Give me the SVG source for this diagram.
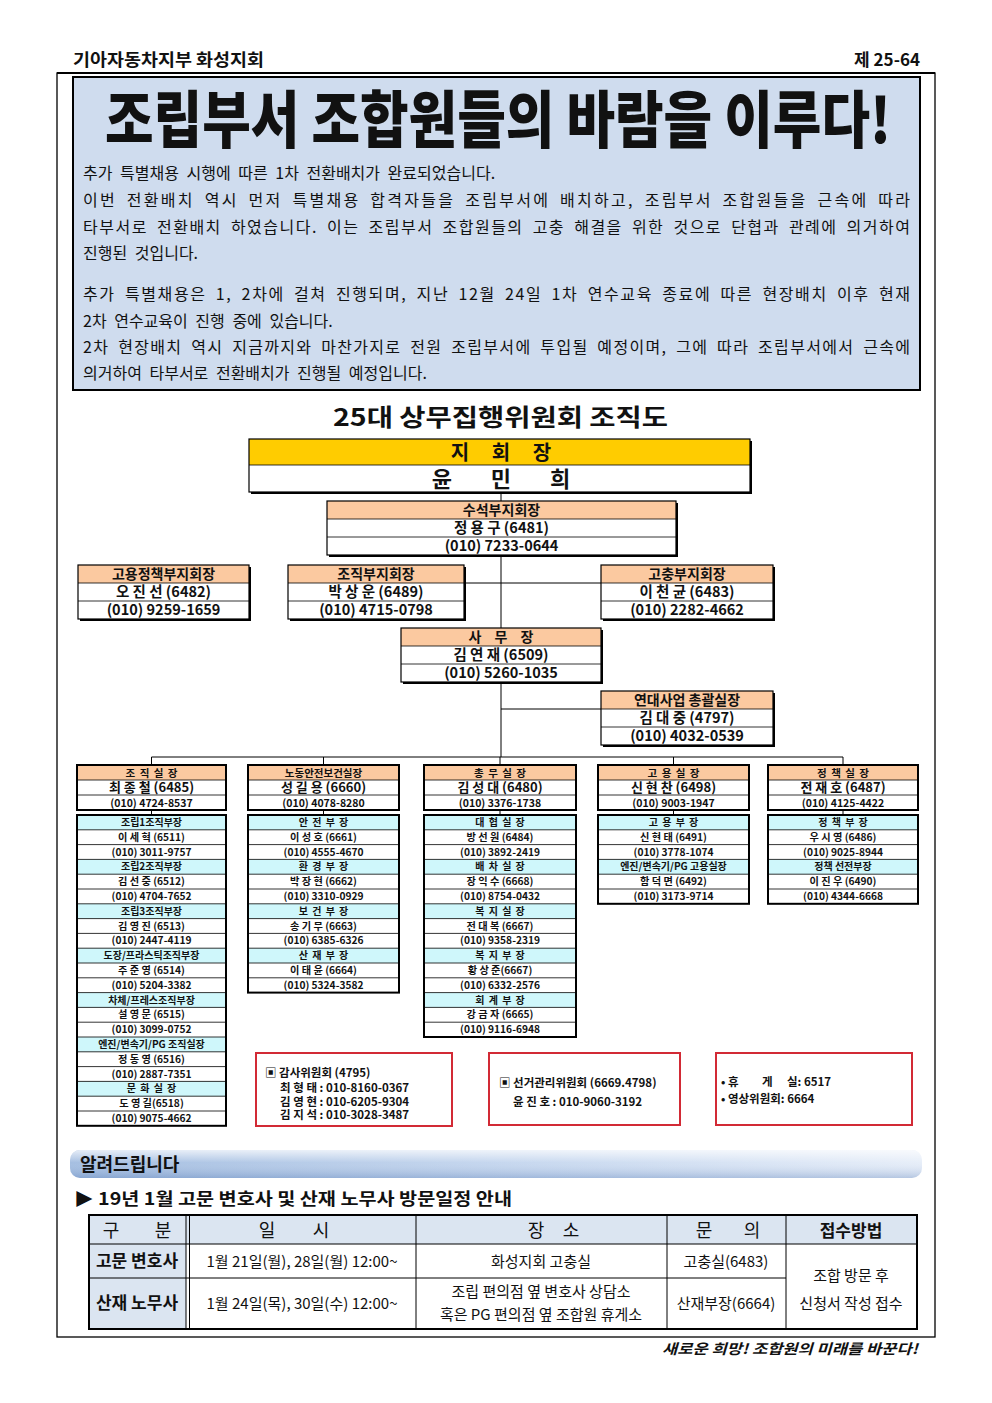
<svg xmlns="http://www.w3.org/2000/svg" width="992" height="1403" viewBox="0 0 992 1403">
<defs>
<linearGradient id="bannerG" x1="0" y1="0" x2="1" y2="0">
<stop offset="0" stop-color="#9cb8de"/>
<stop offset="0.55" stop-color="#c3d5ee"/>
<stop offset="1" stop-color="#e4ecf8"/>
</linearGradient>
<linearGradient id="bannerS" x1="0" y1="0" x2="0" y2="1">
<stop offset="0" stop-color="#ffffff" stop-opacity="0.75"/>
<stop offset="0.45" stop-color="#ffffff" stop-opacity="0.1"/>
<stop offset="1" stop-color="#5f82b8" stop-opacity="0.35"/>
</linearGradient>
</defs>
<style>
text{font-family:"Noto Sans CJK KR","Liberation Sans",sans-serif;fill:#111}
.b{font-weight:700}
.body{font-size:16px;word-spacing:4px}
.m{text-anchor:middle}
.l2h{font-size:14px;font-weight:700;text-anchor:middle}
.l2{font-size:14.5px;font-weight:700;text-anchor:middle}
.l3h{font-size:10.5px;font-weight:700;text-anchor:middle}
.l3n{font-size:13px;font-weight:700;text-anchor:middle}
.l3p{font-size:10.5px;font-weight:700;text-anchor:middle}
.sh{font-size:10px;font-weight:700;text-anchor:middle}
.sn{font-size:10.2px;font-weight:700;text-anchor:middle}
.peach{fill:#fbc9a0}
.cyan{fill:#cff7fb}
.wh{fill:#fff}
.bd{fill:none;stroke:#000;stroke-width:1.2}
.bd2{fill:none;stroke:#000;stroke-width:2}
.div{stroke:#000;stroke-width:0.8;fill:none}
.red{fill:#fff;stroke:#d22a35;stroke-width:2}
.rt{font-size:11.5px;font-weight:700}
.conn{stroke:#000;stroke-width:1;fill:none}
.td{font-size:15px}
.th{font-size:18px}
.tl{stroke:#000;stroke-width:1;fill:none}
</style>
<rect width="992" height="1403" fill="#fff"/>

<!-- page header -->
<text x="73" y="66" class="b" style="font-size:17px" textLength="191" lengthAdjust="spacingAndGlyphs">기아자동차지부 화성지회</text>
<text x="920" y="66" class="b" style="font-size:17px;text-anchor:end">제 25-64</text>
<rect x="57" y="73" width="878" height="1264" fill="none" stroke="#000" stroke-width="1.3"/>
<line x1="57" y1="73" x2="935" y2="73" stroke="#000" stroke-width="2.2"/>

<!-- headline box -->
<rect x="73" y="77" width="847" height="313" fill="#cfdcee" stroke="#000" stroke-width="2"/>
<text x="105" y="143" font-size="62" font-weight="900" textLength="786" lengthAdjust="spacingAndGlyphs">조립부서 조합원들의 바람을 이루다!</text>
<text class="body" x="83" y="179">추가 특별채용 시행에 따른 1차 전환배치가 완료되었습니다.</text>
<text class="body" x="83" y="206" textLength="827" lengthAdjust="spacing">이번 전환배치 역시 먼저 특별채용 합격자들을 조립부서에 배치하고, 조립부서 조합원들을 근속에 따라</text>
<text class="body" x="83" y="233" textLength="827" lengthAdjust="spacing">타부서로 전환배치 하였습니다. 이는 조립부서 조합원들의 고충 해결을 위한 것으로 단협과 관례에 의거하여</text>
<text class="body" x="83" y="259">진행된 것입니다.</text>
<text class="body" x="83" y="300" textLength="827" lengthAdjust="spacing">추가 특별채용은 1, 2차에 걸쳐 진행되며, 지난 12월 24일 1차 연수교육 종료에 따른 현장배치 이후 현재</text>
<text class="body" x="83" y="327">2차 연수교육이 진행 중에 있습니다.</text>
<text class="body" x="83" y="353" textLength="827" lengthAdjust="spacing">2차 현장배치 역시 지금까지와 마찬가지로 전원 조립부서에 투입될 예정이며, 그에 따라 조립부서에서 근속에</text>
<text class="body" x="83" y="379">의거하여 타부서로 전환배치가 진행될 예정입니다.</text>

<!-- org chart title -->
<text x="333" y="426" font-size="24" font-weight="700" textLength="335" lengthAdjust="spacingAndGlyphs">25대 상무집행위원회 조직도</text>

<!-- connectors -->
<g id="connectors" class="conn">
<path d="M501 492V757"/>
<path d="M464 583H601"/>
<path d="M501 709H601"/>
<path d="M151.5 757H843"/>
<path d="M151.5 757V765M323.5 757V765M500 757V765M673.5 757V765M843 757V765"/>
<path d="M151.5 810V815M323.5 810V815M500 810V815M673.5 810V815M843 810V815"/>
</g>

<!-- 지회장 -->
<g id="n-jihoejang">
<rect x="251" y="441" width="501" height="53" fill="#000"/>
<rect x="249" y="439" width="501" height="53" fill="#fff"/>
<rect x="249" y="439" width="501" height="26" fill="#ffcc00"/>
<path class="div" d="M249 465H750"/>
<rect x="249" y="439" width="501" height="53" class="bd"/>
<text x="501" y="460" font-size="20" font-weight="700" text-anchor="middle" word-spacing="18">지 회 장</text>
<text x="501" y="487" font-size="22" font-weight="700" text-anchor="middle" word-spacing="34">윤 민 희</text>
</g>

<!-- level 2 -->
<g id="n-suseok">
<rect x="329" y="503" width="349" height="54" fill="#000"/>
<rect x="327" y="501" width="349" height="54" class="wh"/>
<rect x="327" y="501" width="349" height="18" class="peach"/>
<path class="div" d="M327 519h349M327 537h349"/>
<rect x="327" y="501" width="349" height="54" class="bd"/>
<text class="l2h" x="501.5" y="515">수석부지회장</text>
<text class="l2" x="501.5" y="533">정 용 구 (6481)</text>
<text class="l2" x="501.5" y="551">(010) 7233-0644</text>
</g>

<g id="n-goyongjeongchaek">
<rect x="80" y="567" width="171" height="54" fill="#000"/>
<rect x="78" y="565" width="171" height="54" class="wh"/>
<rect x="78" y="565" width="171" height="18" class="peach"/>
<path class="div" d="M78 583h171M78 601h171"/>
<rect x="78" y="565" width="171" height="54" class="bd"/>
<text class="l2h" x="163.5" y="579">고용정책부지회장</text>
<text class="l2" x="163.5" y="597">오 진 선 (6482)</text>
<text class="l2" x="163.5" y="615">(010) 9259-1659</text>
</g>

<g id="n-jojikbu">
<rect x="290" y="567" width="176" height="54" fill="#000"/>
<rect x="288" y="565" width="176" height="54" class="wh"/>
<rect x="288" y="565" width="176" height="18" class="peach"/>
<path class="div" d="M288 583h176M288 601h176"/>
<rect x="288" y="565" width="176" height="54" class="bd"/>
<text class="l2h" x="376" y="579">조직부지회장</text>
<text class="l2" x="376" y="597">박 상 운 (6489)</text>
<text class="l2" x="376" y="615">(010) 4715-0798</text>
</g>

<g id="n-gochung">
<rect x="603" y="567" width="172" height="54" fill="#000"/>
<rect x="601" y="565" width="172" height="54" class="wh"/>
<rect x="601" y="565" width="172" height="18" class="peach"/>
<path class="div" d="M601 583h172M601 601h172"/>
<rect x="601" y="565" width="172" height="54" class="bd"/>
<text class="l2h" x="687" y="579">고충부지회장</text>
<text class="l2" x="687" y="597">이 천 균 (6483)</text>
<text class="l2" x="687" y="615">(010) 2282-4662</text>
</g>

<g id="n-samujang">
<rect x="403" y="630" width="200" height="54" fill="#000"/>
<rect x="401" y="628" width="200" height="54" class="wh"/>
<rect x="401" y="628" width="200" height="18" class="peach"/>
<path class="div" d="M401 646h200M401 664h200"/>
<rect x="401" y="628" width="200" height="54" class="bd"/>
<text class="l2h" x="501" y="642" word-spacing="10">사 무 장</text>
<text class="l2" x="501" y="660">김 연 재 (6509)</text>
<text class="l2" x="501" y="678">(010) 5260-1035</text>
</g>

<g id="n-yeondae">
<rect x="603" y="693" width="172" height="54" fill="#000"/>
<rect x="601" y="691" width="172" height="54" class="wh"/>
<rect x="601" y="691" width="172" height="18" class="peach"/>
<path class="div" d="M601 709h172M601 727h172"/>
<rect x="601" y="691" width="172" height="54" class="bd"/>
<text class="l2h" x="687" y="705">연대사업 총괄실장</text>
<text class="l2" x="687" y="723">김 대 중 (4797)</text>
<text class="l2" x="687" y="741">(010) 4032-0539</text>
</g>

<!-- level 3 heads -->
<g id="n-jojiksiljang">
<rect x="77" y="765" width="149" height="45" class="wh"/>
<rect x="77" y="765" width="149" height="15" class="peach"/>
<path class="div" d="M77 780h149M77 795h149"/>
<rect x="77" y="765" width="149" height="45" class="bd2"/>
<text class="l3h" x="151.5" y="776.5" word-spacing="2">조 직 실 장</text>
<text class="l3n" x="151.5" y="792">최 종 철 (6485)</text>
<text class="l3p" x="151.5" y="806.5">(010) 4724-8537</text>
</g>
<g id="n-nodong">
<rect x="248" y="765" width="151" height="45" class="wh"/>
<rect x="248" y="765" width="151" height="15" class="peach"/>
<path class="div" d="M248 780h151M248 795h151"/>
<rect x="248" y="765" width="151" height="45" class="bd2"/>
<text class="l3h" x="323.5" y="776.5">노동안전보건실장</text>
<text class="l3n" x="323.5" y="792">성 길 용 (6660)</text>
<text class="l3p" x="323.5" y="806.5">(010) 4078-8280</text>
</g>
<g id="n-chongmu">
<rect x="424" y="765" width="152" height="45" class="wh"/>
<rect x="424" y="765" width="152" height="15" class="peach"/>
<path class="div" d="M424 780h152M424 795h152"/>
<rect x="424" y="765" width="152" height="45" class="bd2"/>
<text class="l3h" x="500" y="776.5" word-spacing="2">총 무 실 장</text>
<text class="l3n" x="500" y="792">김 성 대 (6480)</text>
<text class="l3p" x="500" y="806.5">(010) 3376-1738</text>
</g>
<g id="n-goyongsil">
<rect x="598" y="765" width="151" height="45" class="wh"/>
<rect x="598" y="765" width="151" height="15" class="peach"/>
<path class="div" d="M598 780h151M598 795h151"/>
<rect x="598" y="765" width="151" height="45" class="bd2"/>
<text class="l3h" x="673.5" y="776.5" word-spacing="2">고 용 실 장</text>
<text class="l3n" x="673.5" y="792">신 현 찬 (6498)</text>
<text class="l3p" x="673.5" y="806.5">(010) 9003-1947</text>
</g>
<g id="n-jeongchaek">
<rect x="768" y="765" width="150" height="45" class="wh"/>
<rect x="768" y="765" width="150" height="15" class="peach"/>
<path class="div" d="M768 780h150M768 795h150"/>
<rect x="768" y="765" width="150" height="45" class="bd2"/>
<text class="l3h" x="843" y="776.5" word-spacing="2">정 책 실 장</text>
<text class="l3n" x="843" y="792">전 재 호 (6487)</text>
<text class="l3p" x="843" y="806.5">(010) 4125-4422</text>
</g>

<!-- sub column: 조직 -->
<g id="n-jojik-sub">
<rect x="77" y="815" width="149" height="310.8" class="wh"/>
<rect x="77" y="815" width="149" height="14.8" class="cyan"/>
<rect x="77" y="859.4" width="149" height="14.8" class="cyan"/>
<rect x="77" y="903.8" width="149" height="14.8" class="cyan"/>
<rect x="77" y="948.2" width="149" height="14.8" class="cyan"/>
<rect x="77" y="992.6" width="149" height="14.8" class="cyan"/>
<rect x="77" y="1037" width="149" height="14.8" class="cyan"/>
<rect x="77" y="1081.4" width="149" height="14.8" class="cyan"/>
<path class="div" d="M77 829.8h149M77 844.6h149M77 859.4h149M77 874.2h149M77 889h149M77 903.8h149M77 918.6h149M77 933.4h149M77 948.2h149M77 963h149M77 977.8h149M77 992.6h149M77 1007.4h149M77 1022.2h149M77 1037h149M77 1051.8h149M77 1066.6h149M77 1081.4h149M77 1096.2h149M77 1111h149"/>
<rect x="77" y="815" width="149" height="310.8" class="bd2"/>
<text class="sh" x="151.5" y="826">조립1조직부장</text>
<text class="sn" x="151.5" y="840.8">이 세 혁 (6511)</text>
<text class="sn" x="151.5" y="855.6">(010) 3011-9757</text>
<text class="sh" x="151.5" y="870.4">조립2조직부장</text>
<text class="sn" x="151.5" y="885.2">김 선 중 (6512)</text>
<text class="sn" x="151.5" y="900">(010) 4704-7652</text>
<text class="sh" x="151.5" y="914.8">조립3조직부장</text>
<text class="sn" x="151.5" y="929.6">김 영 진 (6513)</text>
<text class="sn" x="151.5" y="944.4">(010) 2447-4119</text>
<text class="sh" x="151.5" y="959.2">도장/프라스틱조직부장</text>
<text class="sn" x="151.5" y="974">주 준 영 (6514)</text>
<text class="sn" x="151.5" y="988.8">(010) 5204-3382</text>
<text class="sh" x="151.5" y="1003.6">차체/프레스조직부장</text>
<text class="sn" x="151.5" y="1018.4">설 영 문 (6515)</text>
<text class="sn" x="151.5" y="1033.2">(010) 3099-0752</text>
<text class="sh" x="151.5" y="1048">엔진/변속기/PG 조직실장</text>
<text class="sn" x="151.5" y="1062.8">정 동 영 (6516)</text>
<text class="sn" x="151.5" y="1077.6">(010) 2887-7351</text>
<text class="sh" x="151.5" y="1092.4" word-spacing="2">문 화 실 장</text>
<text class="sn" x="151.5" y="1107.2">도 영 길(6518)</text>
<text class="sn" x="151.5" y="1122">(010) 9075-4662</text>
</g>

<!-- sub column: 노동안전 -->
<g id="n-nodong-sub">
<rect x="248" y="815" width="151" height="177.6" class="wh"/>
<rect x="248" y="815" width="151" height="14.8" class="cyan"/>
<rect x="248" y="859.4" width="151" height="14.8" class="cyan"/>
<rect x="248" y="903.8" width="151" height="14.8" class="cyan"/>
<rect x="248" y="948.2" width="151" height="14.8" class="cyan"/>
<path class="div" d="M248 829.8h151M248 844.6h151M248 859.4h151M248 874.2h151M248 889h151M248 903.8h151M248 918.6h151M248 933.4h151M248 948.2h151M248 963h151M248 977.8h151"/>
<rect x="248" y="815" width="151" height="177.6" class="bd2"/>
<text class="sh" x="323.5" y="826" word-spacing="2">안 전 부 장</text>
<text class="sn" x="323.5" y="840.8">이 성 호 (6661)</text>
<text class="sn" x="323.5" y="855.6">(010) 4555-4670</text>
<text class="sh" x="323.5" y="870.4" word-spacing="2">환 경 부 장</text>
<text class="sn" x="323.5" y="885.2">박 장 현 (6662)</text>
<text class="sn" x="323.5" y="900">(010) 3310-0929</text>
<text class="sh" x="323.5" y="914.8" word-spacing="2">보 건 부 장</text>
<text class="sn" x="323.5" y="929.6">송 기 무 (6663)</text>
<text class="sn" x="323.5" y="944.4">(010) 6385-6326</text>
<text class="sh" x="323.5" y="959.2" word-spacing="2">산 재 부 장</text>
<text class="sn" x="323.5" y="974">이 태 윤 (6664)</text>
<text class="sn" x="323.5" y="988.8">(010) 5324-3582</text>
</g>

<!-- sub column: 총무 -->
<g id="n-chongmu-sub">
<rect x="424" y="815" width="152" height="222" class="wh"/>
<rect x="424" y="815" width="152" height="14.8" class="cyan"/>
<rect x="424" y="859.4" width="152" height="14.8" class="cyan"/>
<rect x="424" y="903.8" width="152" height="14.8" class="cyan"/>
<rect x="424" y="948.2" width="152" height="14.8" class="cyan"/>
<rect x="424" y="992.6" width="152" height="14.8" class="cyan"/>
<path class="div" d="M424 829.8h152M424 844.6h152M424 859.4h152M424 874.2h152M424 889h152M424 903.8h152M424 918.6h152M424 933.4h152M424 948.2h152M424 963h152M424 977.8h152M424 992.6h152M424 1007.4h152M424 1022.2h152"/>
<rect x="424" y="815" width="152" height="222" class="bd2"/>
<text class="sh" x="500" y="826" word-spacing="2">대 협 실 장</text>
<text class="sn" x="500" y="840.8">방 선 원 (6484)</text>
<text class="sn" x="500" y="855.6">(010) 3892-2419</text>
<text class="sh" x="500" y="870.4" word-spacing="2">배 차 실 장</text>
<text class="sn" x="500" y="885.2">장 익 수 (6668)</text>
<text class="sn" x="500" y="900">(010) 8754-0432</text>
<text class="sh" x="500" y="914.8" word-spacing="2">복 지 실 장</text>
<text class="sn" x="500" y="929.6">전 대 복 (6667)</text>
<text class="sn" x="500" y="944.4">(010) 9358-2319</text>
<text class="sh" x="500" y="959.2" word-spacing="2">복 지 부 장</text>
<text class="sn" x="500" y="974">황 상 준(6667)</text>
<text class="sn" x="500" y="988.8">(010) 6332-2576</text>
<text class="sh" x="500" y="1003.6" word-spacing="2">회 계 부 장</text>
<text class="sn" x="500" y="1018.4">강 금 자 (6665)</text>
<text class="sn" x="500" y="1033.2">(010) 9116-6948</text>
</g>

<!-- sub column: 고용 -->
<g id="n-goyong-sub">
<rect x="598" y="815" width="151" height="88.8" class="wh"/>
<rect x="598" y="815" width="151" height="14.8" class="cyan"/>
<rect x="598" y="859.4" width="151" height="14.8" class="cyan"/>
<path class="div" d="M598 829.8h151M598 844.6h151M598 859.4h151M598 874.2h151M598 889h151"/>
<rect x="598" y="815" width="151" height="88.8" class="bd2"/>
<text class="sh" x="673.5" y="826" word-spacing="2">고 용 부 장</text>
<text class="sn" x="673.5" y="840.8">신 현 태 (6491)</text>
<text class="sn" x="673.5" y="855.6">(010) 3778-1074</text>
<text class="sh" x="673.5" y="870.4">엔진/변속기/PG 고용실장</text>
<text class="sn" x="673.5" y="885.2">함 덕 면 (6492)</text>
<text class="sn" x="673.5" y="900">(010) 3173-9714</text>
</g>

<!-- sub column: 정책 -->
<g id="n-jeongchaek-sub">
<rect x="768" y="815" width="150" height="88.8" class="wh"/>
<rect x="768" y="815" width="150" height="14.8" class="cyan"/>
<rect x="768" y="859.4" width="150" height="14.8" class="cyan"/>
<path class="div" d="M768 829.8h150M768 844.6h150M768 859.4h150M768 874.2h150M768 889h150"/>
<rect x="768" y="815" width="150" height="88.8" class="bd2"/>
<text class="sh" x="843" y="826" word-spacing="2">정 책 부 장</text>
<text class="sn" x="843" y="840.8">우 시 영 (6486)</text>
<text class="sn" x="843" y="855.6">(010) 9025-8944</text>
<text class="sh" x="843" y="870.4">정책 선전부장</text>
<text class="sn" x="843" y="885.2">이 진 우 (6490)</text>
<text class="sn" x="843" y="900">(010) 4344-6668</text>
</g>

<!-- red boxes -->
<g id="n-gamsa">
<rect x="256" y="1053" width="196" height="73" class="red"/>
<text class="rt" x="265" y="1077">▣ 감사위원회 (4795)</text>
<text class="rt" x="280" y="1092">최 형 태 :  010-8160-0367</text>
<text class="rt" x="280" y="1105.5">김 영 현 :  010-6205-9304</text>
<text class="rt" x="280" y="1119">김 지 석 :  010-3028-3487</text>
</g>
<g id="n-seongeo">
<rect x="489" y="1053" width="191" height="72" class="red"/>
<text class="rt" x="499" y="1087">▣ 선거관리위원회 (6669.4798)</text>
<text class="rt" x="513" y="1106">윤 진 호 : 010-9060-3192</text>
</g>
<g id="n-hyuge">
<rect x="716" y="1053" width="196" height="72" class="red"/>
<text class="rt" x="721" y="1086">• 휴<tspan x="762">게</tspan><tspan x="787">실: 6517</tspan></text>
<text class="rt" x="721" y="1103">• 영상위원회: 6664</text>
</g>

<!-- notice banner -->
<rect x="70" y="1150" width="852" height="28" rx="10" fill="url(#bannerG)"/>
<rect x="70" y="1150" width="852" height="28" rx="10" fill="url(#bannerS)"/>
<text x="80" y="1171" font-size="18" font-weight="700">알려드립니다</text>

<text x="74" y="1205" font-size="17" font-weight="700" textLength="438" lengthAdjust="spacingAndGlyphs">▶ 19년 1월 고문 변호사 및 산재 노무사 방문일정 안내</text>

<!-- table -->
<g id="table">
<rect x="89" y="1215" width="828" height="29" fill="#dbe5f1"/>
<rect x="89" y="1244" width="97" height="85" fill="#dbe5f1"/>
<path class="tl" d="M89 1244H917M89 1278H786M186 1215V1329M189.5 1215V1329M416 1215V1329M667 1215V1329M786 1215V1329"/>
<rect x="89" y="1215" width="828" height="114" fill="none" stroke="#000" stroke-width="2"/>
<text class="th m" x="111" y="1237">구</text>
<text class="th m" x="163" y="1237">분</text>
<text class="th m" x="267" y="1237">일</text>
<text class="th m" x="321" y="1237">시</text>
<text class="th m" x="536" y="1237">장</text>
<text class="th m" x="571" y="1237">소</text>
<text class="th m" x="704" y="1237">문</text>
<text class="th m" x="752" y="1237">의</text>
<text class="m b" style="font-size:17px" x="851" y="1237">접수방법</text>
<text class="m b" style="font-size:17px" x="137" y="1267">고문 변호사</text>
<text class="m b" style="font-size:17px" x="137" y="1309">산재 노무사</text>
<text class="td m" x="302" y="1267">1월 21일(월), 28일(월) 12:00~</text>
<text class="td m" x="302" y="1309">1월 24일(목), 30일(수) 12:00~</text>
<text class="td m" x="541" y="1267">화성지회 고충실</text>
<text class="td m" x="541" y="1297">조립 편의점 옆 변호사 상담소</text>
<text class="td m" x="541" y="1320">혹은 PG 편의점 옆 조합원 휴게소</text>
<text class="td m" x="726" y="1267">고충실(6483)</text>
<text class="td m" x="726" y="1309">산재부장(6664)</text>
<text class="td m" x="851" y="1281">조합 방문 후</text>
<text class="td m" x="851" y="1309">신청서 작성 접수</text>
</g>

<text x="662" y="1354" font-size="14" font-weight="700" font-style="italic" textLength="256" lengthAdjust="spacingAndGlyphs">새로운 희망! 조합원의 미래를 바꾼다!</text>
</svg>
